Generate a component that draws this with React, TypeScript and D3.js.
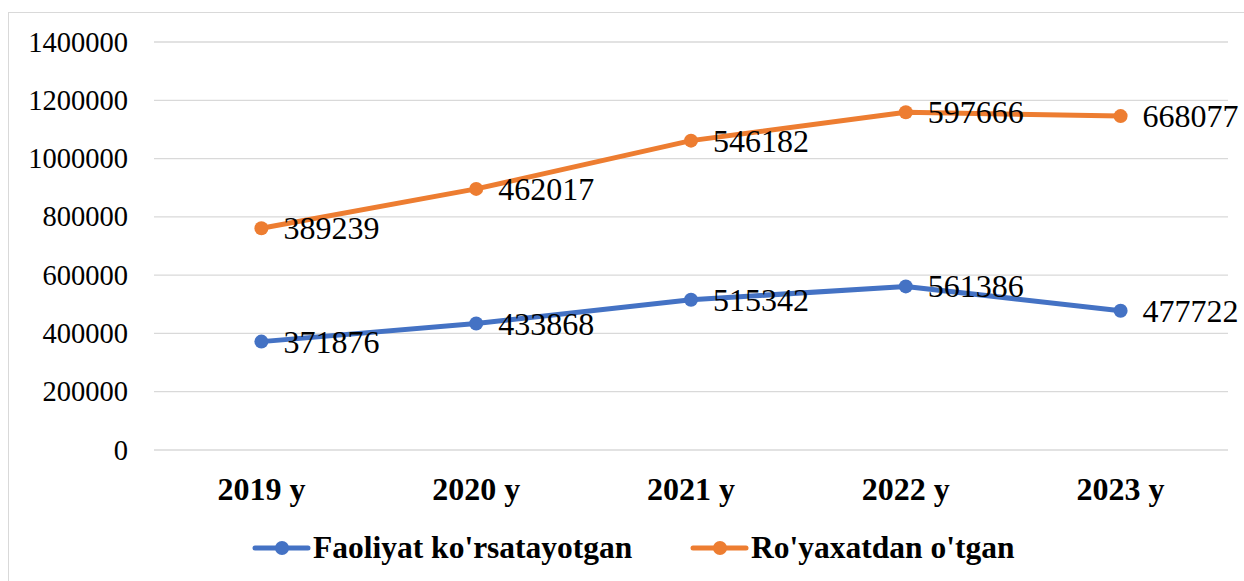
import React from "react";
import * as d3 from "d3";

const categories = ["2019 y", "2020 y", "2021 y", "2022 y", "2023 y"];
const activeValues = [371876, 433868, 515342, 561386, 477722];
const registeredValues = [389239, 462017, 546182, 597666, 668077];
const yTicks = [0, 200000, 400000, 600000, 800000, 1000000, 1200000, 1400000];
const seriesNames = ["Faoliyat ko'rsatayotgan", "Ro'yaxatdan o'tgan"];

const width = 1244;
const height = 581;
const font = "Liberation Serif, DejaVu Serif, serif";
const blue = "#4472C4";
const orange = "#ED7D31";

export default function App() {
  const x = d3.scalePoint<string>().domain(categories).range([154, 1228]).padding(0.5);
  const y = d3.scaleLinear().domain([0, 1400000]).range([450, 42]);

  // stacked line chart: second series sits on top of the first
  const stacked = registeredValues.map((v, i) => v + activeValues[i]);

  const line = d3
    .line<number>()
    .x((_, i) => x(categories[i]) as number)
    .y((d) => y(d));

  const series = [
    { name: seriesNames[0], color: blue, plot: activeValues, labels: activeValues },
    { name: seriesNames[1], color: orange, plot: stacked, labels: registeredValues },
  ];

  const legend = [
    { name: seriesNames[0], color: blue, x: 255 },
    { name: seriesNames[1], color: orange, x: 693 },
  ];

  return (
    <svg
      width={width}
      height={height}
      style={{ position: "absolute", left: 0, top: 0, background: "#fff", fontFamily: font }}
    >
      <rect x={8.5} y={12.5} width={width} height={height} fill="#fff" stroke="#d9d9d9" />

      {yTicks.map((t) => (
        <g key={t}>
          <line x1={154} x2={1228} y1={y(t)} y2={y(t)} stroke="#d9d9d9" strokeWidth={1.3} />
          <text x={128} y={y(t) + 9.5} textAnchor="end" style={{ fontFamily: font, fontSize: 28.5 }} fill="#000">
            {t}
          </text>
        </g>
      ))}

      {categories.map((c) => (
        <text
          key={c}
          x={x(c)}
          y={500}
          textAnchor="middle"
          style={{ fontFamily: font, fontSize: 32, fontWeight: "bold" }}
          fill="#000"
        >
          {c}
        </text>
      ))}

      {series.map((s) => (
        <g key={s.name}>
          <path d={line(s.plot) || ""} fill="none" stroke={s.color} strokeWidth={5} strokeLinejoin="round" />
          {s.plot.map((v, i) => (
            <circle key={i} cx={x(categories[i])} cy={y(v)} r={7} fill={s.color} />
          ))}
          {s.plot.map((v, i) => (
            <text
              key={"l" + i}
              x={(x(categories[i]) as number) + 22}
              y={y(v) + 11}
              style={{ fontFamily: font, fontSize: 32 }}
              fill="#000"
            >
              {s.labels[i]}
            </text>
          ))}
        </g>
      ))}

      {legend.map((l) => (
        <g key={l.name}>
          <line x1={l.x} x2={l.x + 53} y1={548} y2={548} stroke={l.color} strokeWidth={5} strokeLinecap="round" />
          <circle cx={l.x + 27} cy={548} r={7} fill={l.color} />
          <text x={l.x + 58} y={558} style={{ fontFamily: font, fontSize: 31.5, fontWeight: "bold" }} fill="#000">
            {l.name}
          </text>
        </g>
      ))}
    </svg>
  );
}
